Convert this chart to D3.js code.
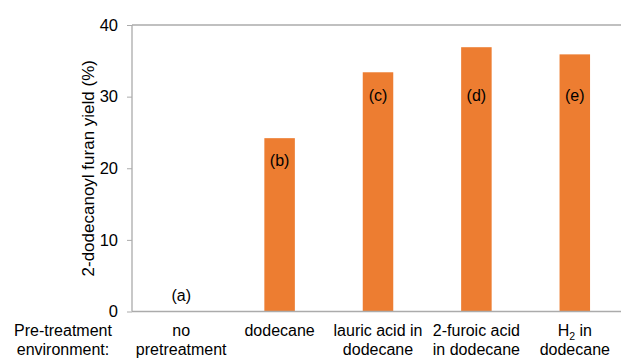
<!DOCTYPE html>
<html>
<head>
<meta charset="utf-8">
<script src="https://cdn.jsdelivr.net/npm/d3@7/dist/d3.min.js"></script>
<style>
body{margin:0;background:#fff;}
text{font-family:"Liberation Sans",Arial,sans-serif;fill:#000;}
</style>
</head>
<body>
<svg id="chart" width="621" height="361"></svg>
<script>
const categories = [["no","pretreatment"],["dodecane"],["lauric acid in","dodecane"],["2-furoic acid","in dodecane"],["H2 in","dodecane"]];
const yields = [0, 24.2, 33.4, 36.9, 35.9];
const letters = ["(a)","(b)","(c)","(d)","(e)"];
const letterPos = [2.3, 21.1, 30.2, 30.2, 30.2];
const yTicks = [0,10,20,30,40];

const svg = d3.select("#chart");
const m = {left:132, top:25, right:624, bottom:311.5};

const x = d3.scaleBand().domain(d3.range(categories.length)).range([m.left, m.right]).paddingInner(0.69).paddingOuter(0.345);
const y = d3.scaleLinear().domain([0,40]).range([m.bottom, m.top]);

// plot border (top)
svg.append("line").attr("x1",m.left).attr("x2",m.right).attr("y1",y(40)).attr("y2",y(40))
  .attr("stroke","#ababab").attr("stroke-width",1.3);

// bars
svg.selectAll("rect.bar").data(yields).enter().append("rect")
  .attr("x",(d,i)=>x(i)).attr("width",x.bandwidth())
  .attr("y",d=>y(d)).attr("height",d=>y(0)-y(d))
  .attr("fill","#ED7D31");

// y axis
const yAxis = d3.axisLeft(y).tickValues(yTicks).tickSize(5).tickPadding(9).tickFormat(d3.format("d"));
const ga = svg.append("g").attr("transform",`translate(${m.left},0)`).call(yAxis);
ga.select(".domain").attr("stroke","#ababab").attr("stroke-width",1.3).attr("d",`M0,${y(0)}V${y(40)}`);
ga.selectAll(".tick line").attr("stroke","#ababab");
ga.selectAll(".tick text").style("font-size","16.5px").attr("fill","#000").style("font-family","'Liberation Sans',Arial,sans-serif");

// x axis line
svg.append("line").attr("x1",m.left).attr("x2",m.right).attr("y1",y(0)).attr("y2",y(0))
  .attr("stroke","#ababab").attr("stroke-width",1.3);

// y title
svg.append("text").attr("transform",`translate(94,${(y(0)+y(40))/2}) rotate(-90)`)
  .attr("text-anchor","middle").style("font-size","17px").text("2-dodecanoyl furan yield (%)");

// category labels
categories.forEach((lines,i)=>{
  const cx = x(i)+x.bandwidth()/2;
  lines.forEach((ln,j)=>{
    const t = svg.append("text").attr("x",cx).attr("y",336+j*19).attr("text-anchor","middle").style("font-size","16px");
    if(ln.startsWith("H2")){
      t.append("tspan").text("H");
      t.append("tspan").attr("dy",4).style("font-size","10.5px").text("2");
      t.append("tspan").attr("dy",-4).text(ln.slice(2));
    } else t.text(ln);
  });
});

// row title
["Pre-treatment","environment:"].forEach((ln,j)=>{
  svg.append("text").attr("x",63).attr("y",336+j*19).attr("text-anchor","middle").style("font-size","16px").text(ln);
});

// letters
svg.selectAll("text.letter").data(letters).enter().append("text")
  .attr("x",(d,i)=>x(i)+x.bandwidth()/2).attr("y",(d,i)=>y(letterPos[i])).attr("dy","0.35em")
  .attr("text-anchor","middle").style("font-size","16px").text(d=>d);
</script>
</body>
</html>
